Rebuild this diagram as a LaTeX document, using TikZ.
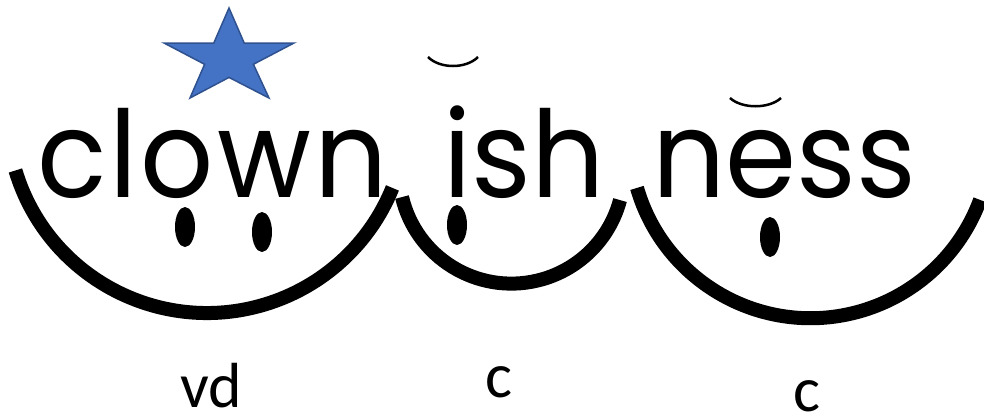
\documentclass[tikz,border=0pt]{standalone}
\usepackage{fontspec}
\setmainfont{Poppins}[FakeStretch=0.95]
\newfontfamily\labelfont{Carlito}
\usepackage{xcolor}
\usetikzlibrary{positioning}
\definecolor{starfill}{HTML}{4472C4}
\definecolor{starline}{HTML}{2F528F}

\begin{document}
\begin{tikzpicture}[
  x=1bp, y=-1bp,
  word/.style={anchor=base west, inner sep=0pt, font=\fontsize{121}{121}\selectfont},
  tag/.style={anchor=base, inner sep=0pt, font=\labelfont\fontsize{64}{64}\selectfont},
  smile/.style={line width=14bp},
  breve/.style={line width=2.5bp},
  eye/.style={fill=black}
]
\useasboundingbox (0,0) rectangle (984,415);

\node[word] (clown) at (37,197) {\addfontfeature{LetterSpace=2.5}clown};
\node[word] (ish) at (443,197) {ish};
\node[word] (ness) at (652,197) {ness};

\filldraw[fill=starfill, draw=starline, line width=1.5bp]
  (229,8) -- (244.2,43) -- (294,43) -- (253.4,64.3) -- (269,98) -- (229,77.4)
  -- (190,98) -- (204.6,64.3) -- (164,43) -- (213.8,43) -- cycle;

\draw[breve] (428,57) .. controls (440,69) and (466,69) .. (478,57);
\draw[breve] (730,98) .. controls (742,109) and (769,109) .. (781,98);

\coordinate (c1) at (207,113);
\coordinate (c2) at (511.4,171.2);
\coordinate (c3) at (810.5,137.5);
\draw[smile] (c1) ++(163.3:200) arc[start angle=163.3, end angle=22, radius=200];
\draw[smile] (c2) ++(166.7:112.4) arc[start angle=166.7, end angle=14.9, radius=112.4];
\draw[smile] (c3) ++(163.8:180.7) arc[start angle=163.8, end angle=20.2, radius=180.7];

\foreach \px/\py in {185/227, 262/232, 457/225, 770/237} {
  \fill[eye] (\px,\py) ellipse [x radius=10, y radius=20];
}

\node[tag] (vd) at (211,407) {vd};
\node[tag] (c-ish) at (499,397) {c};
\node[tag] (c-ness) at (807,411) {c};
\end{tikzpicture}
\end{document}
